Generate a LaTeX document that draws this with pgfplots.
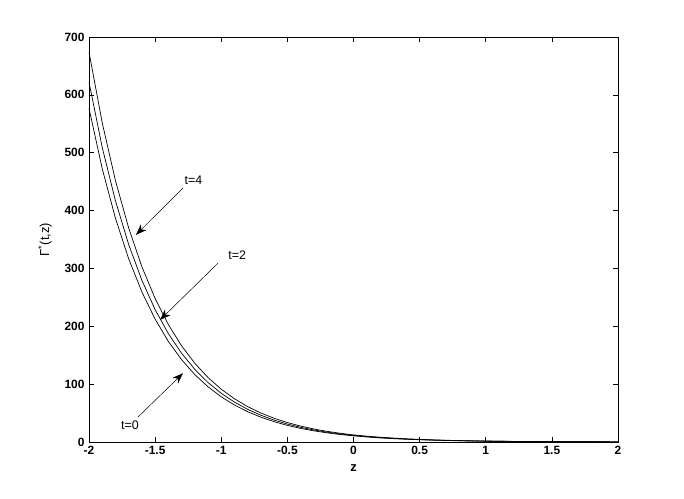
\documentclass[border=0pt]{standalone}
\usepackage{fontspec}
\setmainfont{Liberation Sans}
\usepackage{pgfplots}
\pgfplotsset{compat=1.18}
\usetikzlibrary{arrows.meta}
\pgfplotstableread{
z top mid bot
-2.0 674 622 577
-1.9 551.8 509.2 472.4
-1.8 451.8 416.9 386.8
-1.7 369.9 341.4 316.7
-1.6 302.8 279.5 259.3
-1.5 248.0 228.8 212.3
-1.4 203.0 187.3 173.8
-1.3 166.2 153.4 142.3
-1.2 136.1 125.6 116.5
-1.1 111.4 102.8 95.4
-1.0 91.2 84.2 78.1
-0.9 74.7 68.9 63.9
-0.8 61.1 56.4 52.3
-0.7 50.1 46.2 42.9
-0.6 41.0 37.8 35.1
-0.5 33.6 31.0 28.7
-0.4 27.5 25.4 23.5
-0.3 22.5 20.8 19.3
-0.2 18.4 17.0 15.8
-0.1 15.1 13.9 12.9
0.0 12.3 11.4 10.6
0.1 10.1 9.3 8.7
0.2 8.3 7.6 7.1
0.3 6.8 6.3 5.8
0.4 5.5 5.1 4.7
0.5 4.5 4.2 3.9
0.6 3.7 3.4 3.2
0.7 3.0 2.8 2.6
0.8 2.5 2.3 2.1
0.9 2.0 1.9 1.7
1.0 1.7 1.5 1.4
1.1 1.4 1.3 1.2
1.2 1.1 1.0 1.0
1.3 0.9 0.8 0.8
1.4 0.7 0.7 0.6
1.5 0.6 0.6 0.5
1.6 0.5 0.5 0.4
1.7 0.4 0.4 0.4
1.8 0.3 0.3 0.3
1.9 0.3 0.3 0.2
2.0 0.2 0.2 0.2
}\curves
\begin{document}
\begin{tikzpicture}
\begin{axis}[
  scale only axis,
  width=529bp, height=405bp,
  xmin=-2, xmax=2, ymin=0, ymax=700,
  xtick={-2,-1.5,...,2},
  ytick={0,100,...,700},
  xticklabels={-2,-1.5,-1,-0.5,0,0.5,1,1.5,2},
  tick align=inside,
  major tick length=5bp,
  axis line style={line width=0.8bp},
  tick style={line width=0.6bp, black},
  ticklabel style={font=\fontsize{12}{14}\selectfont\bfseries},
  /pgf/number format/assume math mode=true,
  xticklabel style={yshift=-1bp},
  yticklabel style={xshift=-1bp},
  xlabel={\fontsize{13}{15}\selectfont\bfseries z},
  ylabel={\fontsize{13}{15}\selectfont Γ\textsuperscript{*}(t,z)},
  xlabel style={yshift=-3bp},
  ylabel style={yshift=6bp},
]
\addplot[black, line width=0.7bp] table[x=z,y=top] {\curves};
\addplot[black, line width=0.7bp] table[x=z,y=mid] {\curves};
\addplot[black, line width=0.7bp] table[x=z,y=bot] {\curves};
\draw[line width=0.5bp, -{Stealth[length=11bp,width=8bp]}] (axis cs:-1.289,439) -- (axis cs:-1.645,358);
\draw[line width=0.5bp, -{Stealth[length=11bp,width=8bp]}] (axis cs:-1.025,309) -- (axis cs:-1.463,211);
\draw[line width=0.5bp, -{Stealth[length=11bp,width=8bp]}] (axis cs:-1.63,43) -- (axis cs:-1.289,119);
\node[font=\fontsize{12.5}{14}\selectfont] at (axis cs:-1.21,453) {t=4};
\node[font=\fontsize{12.5}{14}\selectfont] at (axis cs:-0.88,323) {t=2};
\node[font=\fontsize{12.5}{14}\selectfont] at (axis cs:-1.69,29) {t=0};
\end{axis}
\path (current axis.south west) ++(-89bp,-57bp) coordinate (bbl);
\path (current axis.north east) ++(66bp,37bp) coordinate (bbr);
\path (bbl) rectangle (bbr);
\end{tikzpicture}
\end{document}
